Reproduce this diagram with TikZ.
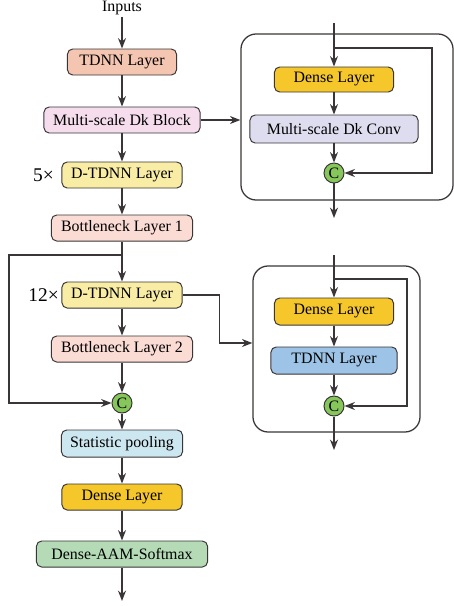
\documentclass[tikz,border=0pt]{standalone}
\usepackage{fontspec}
\setmainfont{Liberation Serif}
\usetikzlibrary{arrows.meta}
\definecolor{lnclr}{HTML}{3A3536}
\definecolor{tdnnclr}{HTML}{F4C5B0}
\definecolor{msclr}{HTML}{F6DDEE}
\definecolor{dtclr}{HTML}{F9EDA5}
\definecolor{bnclr}{HTML}{FBDCD5}
\definecolor{poolclr}{HTML}{CDE7F1}
\definecolor{denseclr}{HTML}{F5C72B}
\definecolor{aamclr}{HTML}{B4DBB6}
\definecolor{convclr}{HTML}{DEDDF0}
\definecolor{blueclr}{HTML}{9DC3E6}
\definecolor{catclr}{HTML}{86C65A}
\begin{document}
\begin{tikzpicture}[x=0.025cm, y=-0.025cm]
        \tikzstyle{layer} = [rectangle, rounded corners=0.13cm, minimum height=0.65cm, inner sep=0pt, text centered, draw=lnclr, line width=0.7pt, font=\fontsize{11.3}{13}\selectfont]
        \tikzstyle{cat} = [circle, minimum size=0.5cm, inner sep=0pt, draw=lnclr, line width=0.7pt, fill=catclr, font=\fontsize{11.3}{13}\selectfont]
        \tikzstyle{panel} = [rectangle, rounded corners=0.38cm, draw=lnclr, line width=0.9pt]
        \tikzstyle{times} = [anchor=east, inner sep=0pt, font=\fontsize{13.8}{15}\selectfont]
        \tikzstyle{arrow} = [draw=lnclr, line width=1pt, ->, >={Stealth[length=0.26cm, width=0.2cm]}]
        \useasboundingbox (0,0) rectangle (454,606);
        % main column
        \node (inp) [anchor=base, inner sep=1pt, font=\fontsize{11.3}{13}\selectfont] at (122,11.5) {Inputs};
        \node (tdnn) [layer, fill=tdnnclr, minimum width=2.725cm] at (122,62) {TDNN Layer};
        \node (msblock) [layer, fill=msclr, minimum width=3.9cm] at (122,120) {Multi-scale Dk Block};
        \node (dt1) [layer, fill=dtclr, minimum width=3cm] at (122,175) {D-TDNN Layer};
        \node (bn1) [layer, fill=bnclr, minimum width=3.525cm] at (122,228) {Bottleneck Layer 1};
        \node (dt2) [layer, fill=dtclr, minimum width=3cm] at (122,295) {D-TDNN Layer};
        \node (bn2) [layer, fill=bnclr, minimum width=3.525cm] at (122,349) {Bottleneck Layer 2};
        \node (cat1) [cat] at (122,403) {C};
        \node (pool) [layer, fill=poolclr, minimum width=3.025cm, minimum height=0.675cm] at (122,443.5) {Statistic pooling};
        \node (dense) [layer, fill=denseclr, minimum width=3cm] at (122,497) {Dense Layer};
        \node (aam) [layer, fill=aamclr, minimum width=4.275cm] at (122,554) {Dense-AAM-Softmax};
        \coordinate (out) at (122,601);
        \node (n5) [times] at (54,175) {5×};
        \node (n12) [times] at (59,295) {12×};
        \coordinate (j1) at (122,255);
        % block panel
        \node (panelA) [panel, minimum width=5.3cm, minimum height=4.15cm] at (347,117) {};
        \coordinate (atop) at (334,23);
        \coordinate (aj) at (334,48);
        \node (adense) [layer, fill=denseclr, minimum width=2.975cm, minimum height=0.625cm] at (334,79.5) {Dense Layer};
        \node (aconv) [layer, fill=convclr, minimum width=4.2cm, minimum height=0.7cm] at (334,129) {Multi-scale Dk Conv};
        \node (acat) [cat] at (334,173) {C};
        \coordinate (aout) at (334,218);
        % layer panel
        \node (panelB) [panel, minimum width=4.175cm, minimum height=4.15cm] at (336.5,349) {};
        \coordinate (btop) at (334,255);
        \coordinate (bj) at (334,279);
        \node (bdense) [layer, fill=denseclr, minimum width=2.975cm, minimum height=0.675cm] at (334,311.5) {Dense Layer};
        \node (btdnn) [layer, fill=blueclr, minimum width=3.15cm, minimum height=0.675cm] at (334,360.5) {TDNN Layer};
        \node (bcat) [cat] at (334,406) {C};
        \coordinate (bout) at (334,450);
        \draw[arrow] (inp) to (tdnn);
        \draw[arrow] (tdnn) to (msblock);
        \draw[arrow] (msblock) to (dt1);
        \draw[arrow] (dt1) to (bn1);
        \draw[draw=lnclr, line width=1pt] (bn1) to (j1);
        \draw[arrow] (j1) to (dt2);
        \draw[arrow] (dt2) to (bn2);
        \draw[arrow] (bn2) to (cat1);
        \draw[arrow] (j1) -- ++(-113,0) |- (cat1);
        \draw[arrow] (cat1) to (pool);
        \draw[arrow] (pool) to (dense);
        \draw[arrow] (dense) to (aam);
        \draw[arrow] (aam) to (out);
        \draw[arrow] (msblock.east) -- (msblock.east -| panelA.west);
        \draw[arrow] (dt2.east) -- ++(37,0) |- ([yshift=0.15cm]panelB.west);
        \draw[draw=lnclr, line width=1pt] (atop) to (aj);
        \draw[arrow] (aj) to (adense);
        \draw[arrow] (adense) to (aconv);
        \draw[arrow] (aconv) to (acat);
        \draw[arrow] (aj) -- ++(98,0) |- (acat);
        \draw[arrow] (acat) to (aout);
        \draw[draw=lnclr, line width=1pt] (btop) to (bj);
        \draw[arrow] (bj) to (bdense);
        \draw[arrow] (bdense) to (btdnn);
        \draw[arrow] (btdnn) to (bcat);
        \draw[arrow] (bj) -- ++(73,0) |- (bcat);
        \draw[arrow] (bcat) to (bout);
    \end{tikzpicture}
\end{document}
